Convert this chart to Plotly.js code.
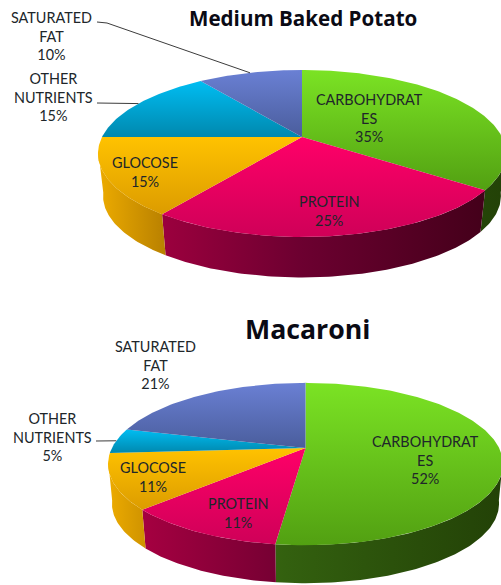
<!DOCTYPE html>
<html>
<head>
<meta charset="utf-8">
<script src="https://cdn.plot.ly/plotly-3.0.1.min.js"></script>
<style>html,body{margin:0;padding:0;background:#fff}#chart{width:501px;height:585px}</style>
</head>
<body>
<div id="chart"></div>
<script>
// ---- data ----
const categories = ['CARBOHYDRAT<br>ES', 'PROTEIN', 'GLOCOSE', 'OTHER<br>NUTRIENTS', 'SATURATED<br>FAT'];
const potatoTitle = 'Medium Baked Potato';
const potatoValues = [35, 25, 15, 15, 10];
const macaroniTitle = 'Macaroni';
const macaroniValues = [52, 11, 11, 5, 21];

// ---- styles ----
const topColors = [
  ['#7be324', '#52a012'], ['#ff0068', '#cf0058'], ['#ffc200', '#dc9c00'],
  ['#00bdf2', '#0088ae'], ['#6a80d4', '#4a5d9c']
];
const wallScales = [
  [[0, '#4a8010'], [0.45, '#33600f'], [1, '#234207']],
  [[0, '#b00044'], [0.5, '#6c0030'], [1, '#400018']],
  [[0, '#eaa900'], [0.16, '#b88000'], [1, '#b88000']],
  [[0, '#006080'], [1, '#004058']],
  [[0, '#3a4a80'], [1, '#2a3660']]
];
const textColor = '#20262a';
const labelFont = 'Lato, Carlito, sans-serif';
const titleFont = '"Open Sans", sans-serif';

// ---- layout of the two pies ----
const potatoGeom = {cx: 302, cy: 137, a: 80.2, b: 200, k: 0.1976, wallScale: 0.975, wallDrop: 43,
  labels: [[369.5, 118], [329, 211], [145, 171.5], [53, 97], [51, 35.5]],
  leaders: {3: [[97, 103]], 4: [[97, 22], [107, 23]]},
  title: [303, 18], titleSize: 20.6};
const macaroniGeom = {cx: 305.5, cy: 448, a: 78, b: 193.6, k: 0.1976, wallScale: 0.98, wallDrop: 40,
  labels: [[425, 460], [238, 513], [153, 477], [52, 437], [155, 364.5]],
  leaders: {3: [[96, 441]]},
  title: [307, 328], titleSize: 26.7};

const traces = [];
const annotations = [];

function project(g, turn, scale, drop) {
  // turn: fraction of a full circle, clockwise from 12 o'clock, seen in perspective
  const ang = turn * 2 * Math.PI;
  const c = Math.sin(ang), s = -Math.cos(ang);
  const d = 1 - g.k * s;
  return {x: g.cx + scale * g.b * c / d, y: g.cy + scale * g.a * s / d + drop, s: s};
}

function drawPie(values, title, g) {
  const total = values.reduce((p, v) => p + v, 0);
  const walls = [], tops = [], extras = [];
  let cum = 0;
  values.forEach((v, i) => {
    const from = cum / total, to = (cum + v) / total;
    cum += v;
    const n = Math.max(8, Math.round(v * 4));
    const arc = [];
    for (let j = 0; j <= n; j++) arc.push(from + (to - from) * j / n);

    // top face
    const pts = arc.map(t => project(g, t, 1, 0));
    const tx = [g.cx].concat(pts.map(p => p.x), [g.cx]);
    const ty = [g.cy].concat(pts.map(p => p.y), [g.cy]);
    tops.push({
      type: 'scatter', mode: 'lines', x: tx, y: ty, fill: 'toself',
      line: {width: 0, color: topColors[i][0]},
      fillgradient: {type: 'vertical', start: Math.min(...ty), stop: Math.max(...ty),
        colorscale: [[0, topColors[i][0]], [1, topColors[i][1]]]},
      hoverinfo: 'skip', showlegend: false
    });

    // side wall (front part only)
    const vis = arc.filter(t => project(g, t, 1, 0).s > g.k - 0.05);
    if (vis.length > 1) {
      const upper = vis.map(t => project(g, t, 1, 0));
      const lower = vis.map(t => project(g, t, g.wallScale, g.wallDrop)).reverse();
      const wx = upper.concat(lower).map(p => p.x);
      const wy = upper.concat(lower).map(p => p.y);
      wx.push(wx[0]); wy.push(wy[0]);
      walls.push({
        type: 'scatter', mode: 'lines', x: wx, y: wy, fill: 'toself',
        line: {width: 0, color: wallScales[i][0][1]},
        fillgradient: {type: 'horizontal', start: g.cx - g.b, stop: g.cx + g.b,
          colorscale: wallScales[i]},
        hoverinfo: 'skip', showlegend: false
      });
    }

    // leader line
    if (g.leaders[i]) {
      const end = project(g, (from + to) / 2, 1, 0);
      extras.push({
        type: 'scatter', mode: 'lines',
        x: g.leaders[i].map(p => p[0]).concat([end.x]),
        y: g.leaders[i].map(p => p[1]).concat([end.y]),
        line: {width: 1, color: '#3c3c3c'},
        hoverinfo: 'skip', showlegend: false
      });
    }

    // data label
    annotations.push({
      xref: 'x', yref: 'y', x: g.labels[i][0], y: g.labels[i][1],
      text: categories[i] + '<br>' + v + '%', showarrow: false,
      xanchor: 'center', yanchor: 'middle', align: 'center',
      font: {family: labelFont, size: 14.4, color: textColor}
    });
  });
  traces.push(...walls, ...tops, ...extras);
  annotations.push({
    xref: 'x', yref: 'y', x: g.title[0], y: g.title[1], text: '<b>' + title + '</b>',
    showarrow: false, xanchor: 'center', yanchor: 'middle',
    font: {family: titleFont, size: g.titleSize, color: '#0a0a14'}
  });
}

drawPie(potatoValues, potatoTitle, potatoGeom);
drawPie(macaroniValues, macaroniTitle, macaroniGeom);

Plotly.newPlot('chart', traces, {
  width: 501, height: 585,
  margin: {l: 0, r: 0, t: 0, b: 0},
  paper_bgcolor: '#fff', plot_bgcolor: '#fff',
  showlegend: false,
  xaxis: {range: [0, 501], visible: false, fixedrange: true},
  yaxis: {range: [585, 0], visible: false, fixedrange: true},
  annotations: annotations
}, {staticPlot: true, displayModeBar: false});
</script>
</body>
</html>
